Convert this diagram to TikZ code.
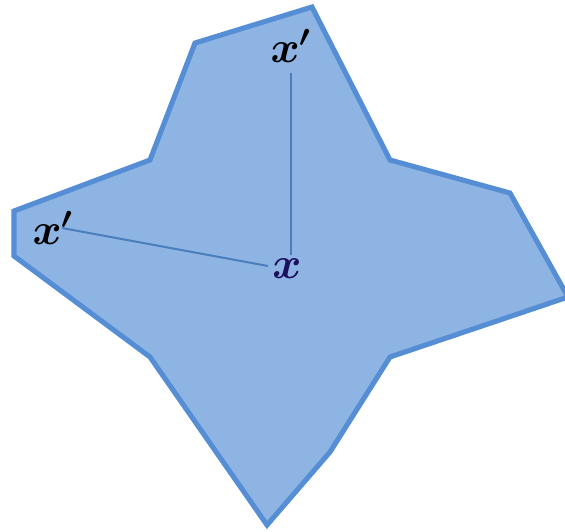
\documentclass[tikz,border=0pt]{standalone}
\usepackage{amsmath}
\usepackage{graphicx}
\definecolor{fillblue}{HTML}{8EB4E3}
\definecolor{edgeblue}{HTML}{558ED5}
\definecolor{rayblue}{HTML}{4A7EBB}
\definecolor{navy}{HTML}{1C0F5E}
\newcommand{\biglbl}[1]{\scalebox{1.6}{\huge\boldmath$#1$}}
\begin{document}
\begin{tikzpicture}[x=0.75pt,y=-0.75pt,
  lbl/.style={inner sep=0pt},
  ray/.style={draw=rayblue,line width=1.5pt}]
\useasboundingbox (0,0) rectangle (565,532);
\begin{scope}
\clip (0,0) rectangle (565,532);
\draw[fill=fillblue,draw=edgeblue,line width=3.8pt,line join=miter]
 (14,211) -- (150,160) -- (195,43) -- (312,7) -- (390,160) -- (510,193)
 -- (568,297) -- (390,357) -- (330,452) -- (267,525) -- (150,357)
 -- (14,256) -- cycle;
\end{scope}
\node[lbl] (top) at (291,46) {\biglbl{x'}};
\node[lbl] (left) at (53,228) {\biglbl{x'}};
\node[lbl,text=navy] (c) at (287,269) {\biglbl{x}};
\coordinate (topend) at (291,73);
\coordinate (cend1) at (291,255);
\coordinate (leftend) at (62,228);
\coordinate (cend2) at (268,266);
\draw[ray] (topend) -- (cend1);
\draw[ray] (leftend) -- (cend2);
\end{tikzpicture}
\end{document}
